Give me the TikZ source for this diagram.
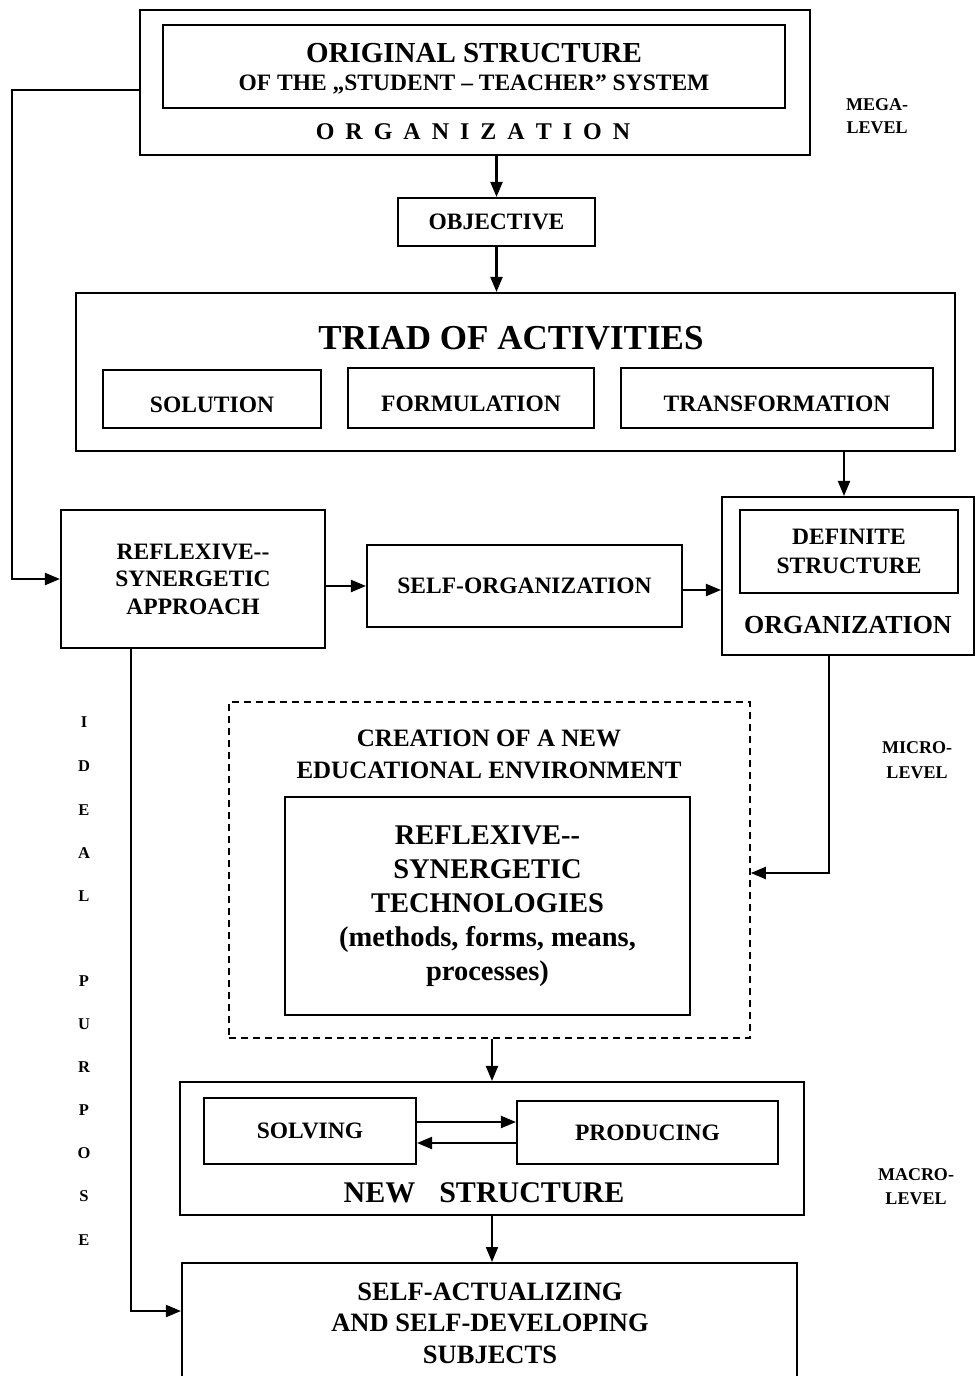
\documentclass[tikz,border=0pt]{standalone}
\usepackage{fontspec}
\setmainfont{Liberation Serif}
\usetikzlibrary{arrows.meta}
\newcommand{\fsz}[2]{\fontsize{#1}{#2}\selectfont\bfseries}
\tikzset{
  box/.style={draw, line width=2.1pt, inner sep=0pt, align=center},
  dbox/.style={draw, line width=1.6pt, dash pattern=on 7pt off 5pt, inner sep=0pt},
  lbl/.style={inner sep=0pt, align=center},
  arr/.style={line width=2.1pt, -{Triangle[length=15pt,width=12pt]}},
}
\begin{document}
\begin{tikzpicture}[x=1pt,y=-1pt]
\useasboundingbox (0,0) rectangle (976,1376);
% top box
\node[box, minimum width=670, minimum height=145] (top) at (475,82.5) {};
\node[box, minimum width=622, minimum height=83] (orig) at (474,66.5) {};
\node[lbl, font=\fsz{29}{33}] (t1a) at (474,53) {ORIGINAL STRUCTURE};
\node[lbl, font=\fsz{23.5}{27}] (t1b) at (474,85) {OF THE „STUDENT – TEACHER” SYSTEM};
\node[lbl, font=\fsz{24}{28}] (t1c) at (473,132) {O\hspace{11pt}R\hspace{11pt}G\hspace{11pt}A\hspace{11pt}N\hspace{11pt}I\hspace{11pt}Z\hspace{11pt}A\hspace{11pt}T\hspace{11pt}I\hspace{11pt}O\hspace{11pt}N};
\node[lbl, font=\fsz{18}{23}] (mega) at (877,116) {MEGA-\\LEVEL};
% objective
\node[box, minimum width=197, minimum height=48, font=\fsz{23.5}{27}] (obj) at (496.5,222) {OBJECTIVE};
% triad
\node[box, minimum width=879, minimum height=158] (triad) at (515.5,372) {};
\node[lbl, font=\fsz{35}{38}] (triadt) at (511,338) {TRIAD OF ACTIVITIES};
\node[box, minimum width=218, minimum height=58] (sol) at (212,399) {};
\node[box, minimum width=246, minimum height=60] (form) at (471,398) {};
\node[box, minimum width=312, minimum height=60] (trans) at (777,398) {};
\node[lbl, font=\fsz{23.5}{27}] (solt) at (212,405) {SOLUTION};
\node[lbl, font=\fsz{23.5}{27}] (formt) at (471,404) {FORMULATION};
\node[lbl, font=\fsz{23.5}{27}] (transt) at (777,404) {TRANSFORMATION};
% middle row
\node[box, minimum width=264, minimum height=138, font=\fsz{23.5}{27.5}] (refl) at (193,579) {REFLEXIVE-{}-\\SYNERGETIC\\APPROACH};
\node[box, minimum width=315, minimum height=82, font=\fsz{23.5}{27}] (so) at (524.5,586) {SELF-ORGANIZATION};
\node[box, minimum width=252, minimum height=158] (org) at (848,576) {};
\node[box, minimum width=218, minimum height=83, font=\fsz{23.5}{29}] (def) at (849,551.5) {DEFINITE\\STRUCTURE};
\node[lbl, font=\fsz{26}{30}] (orgt) at (848,625) {ORGANIZATION};
% dashed
\node[dbox, minimum width=521, minimum height=336] (dash) at (489.5,870) {};
\node[lbl, font=\fsz{25}{32}] (creat) at (489,754) {CREATION OF A NEW\\EDUCATIONAL ENVIRONMENT};
\node[box, minimum width=405, minimum height=218, font=\fsz{28.5}{34}] (tech) at (487.5,906) {REFLEXIVE-{}-\\SYNERGETIC\\TECHNOLOGIES\\(methods, forms, means,\\processes)};
\node[lbl, font=\fsz{18}{25}] (micro) at (917,760) {MICRO-\\LEVEL};
% new structure
\node[box, minimum width=624, minimum height=133] (new) at (492,1148.5) {};
\node[box, minimum width=212, minimum height=66, font=\fsz{23.5}{27}] (solv) at (310,1131) {SOLVING};
\node[box, minimum width=261, minimum height=63, font=\fsz{23.5}{27}] (prod) at (647.5,1132.5) {PRODUCING};
\node[lbl, font=\fsz{30}{34}] (newt) at (484,1193) {NEW\hspace{24pt}STRUCTURE};
\node[lbl, font=\fsz{18}{24}] (macro) at (916,1187) {MACRO-\\LEVEL};
% bottom
\node[box, minimum width=615, minimum height=118, anchor=north] (bot) at (489.5,1262) {};
\node[lbl, font=\fsz{26.5}{31.5}] (bott) at (490,1323) {SELF-ACTUALIZING\\AND SELF-DEVELOPING\\SUBJECTS};
% ideal purpose
\foreach \l/\yy [count=\i] in {I/722,D/766,E/810,A/853,L/896,P/981,U/1024,R/1067,P/1110,O/1153,S/1196,E/1240}
  \node[lbl, font=\fsz{16.5}{18}] (ip\i) at (84,\yy) {\l};
% connectors
\coordinate (fb) at (12,90);
\coordinate (c1) at (131,1311);
\coordinate (c2) at (829,873);
\draw[arr] (top.south -| obj.north) -- (obj.north);
\draw[arr] (obj.south) -- (obj.south |- triad.north);
\draw[arr] ([xshift=-4pt]triad.south -| org.north) -- ([xshift=-4pt]org.north);
\draw[arr] (top.west |- fb) -- (fb) |- (refl.west);
\draw[arr] (refl.east |- so.west) -- (so.west);
\draw[arr] ([yshift=-4pt]so.east) -- ([yshift=-4pt]so.east -| org.west);
\draw[arr] (refl.south -| c1) -- (c1) -- (c1 -| bot.west);
\draw[arr] (org.south -| c2) -- (c2) -- (c2 -| dash.east);
\draw[arr] (dash.south -| new.north) -- (new.north);
\draw[arr] ([yshift=9pt]solv.east) -- ([yshift=9pt]solv.east -| prod.west);
\draw[arr] ([yshift=-10.5pt]prod.west) -- ([yshift=-10.5pt]prod.west -| solv.east);
\draw[arr] (new.south) -- (new.south |- bot.north);
\end{tikzpicture}
\end{document}
